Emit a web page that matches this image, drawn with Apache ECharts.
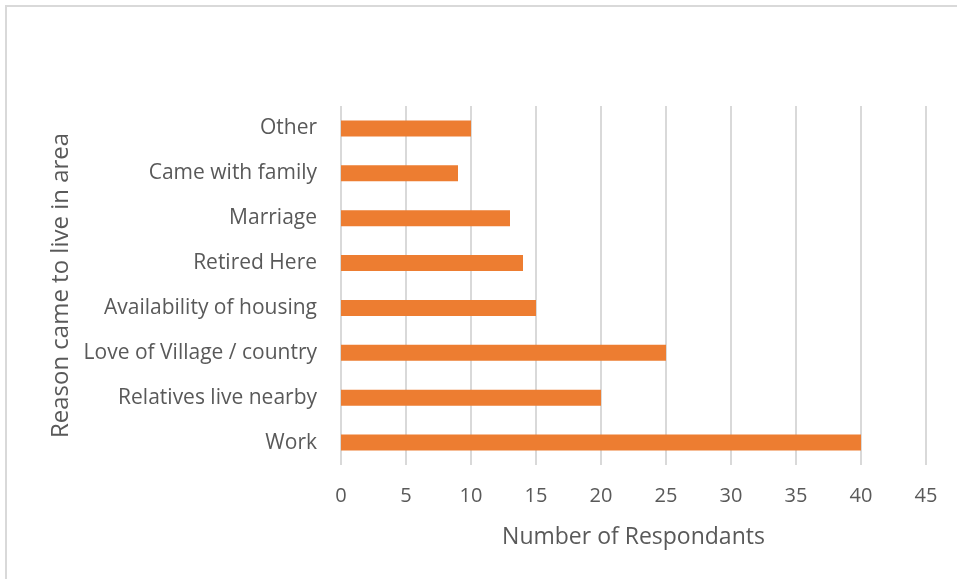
<!DOCTYPE html>
<html>
<head>
<meta charset="utf-8">
<script src="https://cdn.jsdelivr.net/npm/echarts@6/dist/echarts.min.js"></script>
<style>
html,body{margin:0;padding:0;background:#fff;}
#chart{width:957px;height:579px;}
</style>
</head>
<body>
<div id="chart"></div>
<script>
const categories = ["Work","Relatives live nearby","Love of Village / country","Availability of housing","Retired Here","Marriage","Came with family","Other"];
const respondents = [40,20,25,15,14,13,9,10];
const xTicks = {min:0, max:45, interval:5};

const chart = echarts.init(document.getElementById('chart'));
const font = '"Open Sans", sans-serif';
chart.setOption({
  animation:false,
  backgroundColor:'#fff',
  graphic:[{type:'rect', shape:{x:6,y:6,width:1000,height:1000}, style:{fill:'none', stroke:'#d9d9d9', lineWidth:2}, silent:true}],
  grid:{left:341, right:31, top:106, bottom:114, containLabel:false},
  xAxis:{
    type:'value', min:xTicks.min, max:xTicks.max, interval:xTicks.interval,
    name:'Number of Respondants', nameLocation:'middle', nameGap:61,
    nameTextStyle:{color:'#595959', fontSize:23, fontFamily:font},
    axisLine:{show:false}, axisTick:{show:false},
    axisLabel:{color:'#595959', fontSize:20, fontFamily:font, margin:21},
    splitLine:{show:true, lineStyle:{color:'#d9d9d9', width:2}}
  },
  yAxis:{
    type:'category', data:categories,
    name:'Reason came to live in area', nameLocation:'middle', nameGap:268, nameRotate:90,
    nameTextStyle:{color:'#595959', fontSize:24, fontFamily:font},
    axisLine:{show:false}, axisTick:{show:false},
    axisLabel:{color:'#595959', fontSize:21, fontFamily:font, margin:24}
  },
  series:[{type:'bar', data:respondents, barWidth:16, itemStyle:{color:'#ED7D31'}}]
});
</script>
</body>
</html>
